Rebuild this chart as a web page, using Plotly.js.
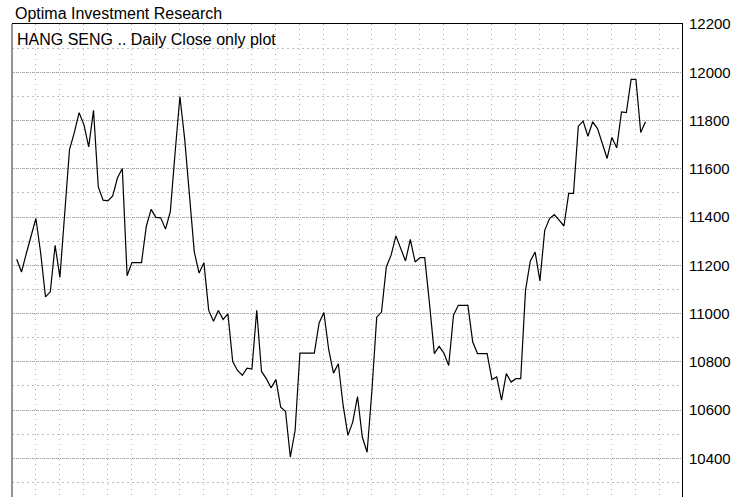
<!DOCTYPE html>
<html>
<head>
<meta charset="utf-8">
<script src="https://cdn.plot.ly/plotly-3.0.1.min.js"></script>
<style>
html, body { margin: 0; padding: 0; overflow: hidden; background: #fff; }
#chart { width: 733px; height: 510px; }
</style>
</head>
<body>
<div id="chart"></div>
<script>
// Daily closes of the Hang Seng index
var closes = [
  11225, 11172, 11249, 11318, 11394, 11250, 11069, 11090, 11283, 11150,
  11413, 11680, 11750, 11833, 11783, 11691, 11843, 11525, 11470, 11467,
  11488, 11563, 11601, 11157, 11211, 11211, 11211, 11362, 11432, 11399,
  11397, 11350, 11422, 11668, 11900, 11722, 11470, 11255, 11168, 11211,
  11013, 10968, 11013, 10976, 10999, 10801, 10764, 10744, 10774, 10770,
  11013, 10760, 10730, 10692, 10726, 10612, 10595, 10405, 10515, 10836,
  10836, 10836, 10836, 10961, 11004, 10850, 10753, 10792, 10620, 10495,
  10550, 10656, 10488, 10425, 10680, 10985, 11006, 11193, 11242, 11322,
  11273, 11218, 11307, 11214, 11232, 11232, 11041, 10834, 10864, 10836,
  10785, 10993, 11034, 11034, 11034, 10882, 10834, 10834, 10834, 10726,
  10737, 10641, 10751, 10716, 10730, 10730, 11096, 11218, 11255, 11135,
  11345, 11394, 11410, 11387, 11363, 11498, 11498, 11777, 11798, 11735,
  11795, 11767, 11705, 11643, 11730, 11687, 11836, 11833, 11971, 11971,
  11751, 11795
];
// trading-day index of each close
var days = closes.map(function (_, i) { return i; });

var chartTitle = "Optima Investment Research";
var plotLabel = "HANG SENG .. Daily Close only plot";
var yTicks = [10400, 10600, 10800, 11000, 11200, 11400, 11600, 11800, 12000, 12200];

var font = "Liberation Sans, Arial, sans-serif";

var trace = {
  x: days,
  y: closes,
  type: "scatter",
  mode: "lines",
  line: { color: "#000000", width: 1.2 },
  hoverinfo: "skip"
};

var layout = {
  width: 733,
  height: 510,
  margin: { l: 12, r: 51, t: 24, b: 0, pad: 0 },
  paper_bgcolor: "#ffffff",
  plot_bgcolor: "#ffffff",
  showlegend: false,
  font: { family: font, size: 15, color: "#000000" },
  xaxis: {
    range: [-0.98, 138.6],
    side: "top",
    showticklabels: false,
    ticks: "",
    dtick: 5,
    tick0: 4,
    showgrid: true,
    gridcolor: "#b4b4b4",
    gridwidth: 1,
    griddash: "1px,4px",
    zeroline: false,
    showline: true,
    linecolor: "#000000",
    linewidth: 1,
    mirror: false,
    fixedrange: true
  },
  yaxis: {
    range: [10185.5, 12200.5],
    side: "right",
    tickvals: yTicks,
    tickformat: "d",
    ticks: "",
    ticklabelstandoff: 3,
    tickfont: { family: font, size: 15, color: "#000000" },
    showgrid: true,
    gridcolor: "#a8a8a8",
    gridwidth: 1,
    griddash: "1px,1px",
    minor: {
      dtick: 100,
      tick0: 0,
      showgrid: true,
      gridcolor: "#bcbcbc",
      gridwidth: 1,
      griddash: "2px,3px"
    },
    zeroline: false,
    showline: true,
    linecolor: "#000000",
    linewidth: 1,
    mirror: false,
    fixedrange: true
  },
  shapes: [
    {
      type: "line", xref: "paper", yref: "paper",
      x0: 0, x1: 0, y0: 0, y1: 1,
      line: { color: "#707070", width: 1.5 }
    }
  ],
  annotations: [
    {
      text: chartTitle,
      xref: "paper", yref: "paper",
      x: 0.002, y: 1 + (24 - 14) / 486,
      xanchor: "left", yanchor: "middle",
      showarrow: false,
      font: { family: font, size: 16, color: "#000000" }
    },
    {
      text: plotLabel,
      xref: "paper", yref: "paper",
      x: 0.004, y: 1 - (39 - 24) / 486,
      xanchor: "left", yanchor: "middle",
      showarrow: false,
      font: { family: font, size: 16, color: "#000000" }
    }
  ]
};

Plotly.newPlot("chart", [trace], layout, { displayModeBar: false, staticPlot: true });
</script>
</body>
</html>
